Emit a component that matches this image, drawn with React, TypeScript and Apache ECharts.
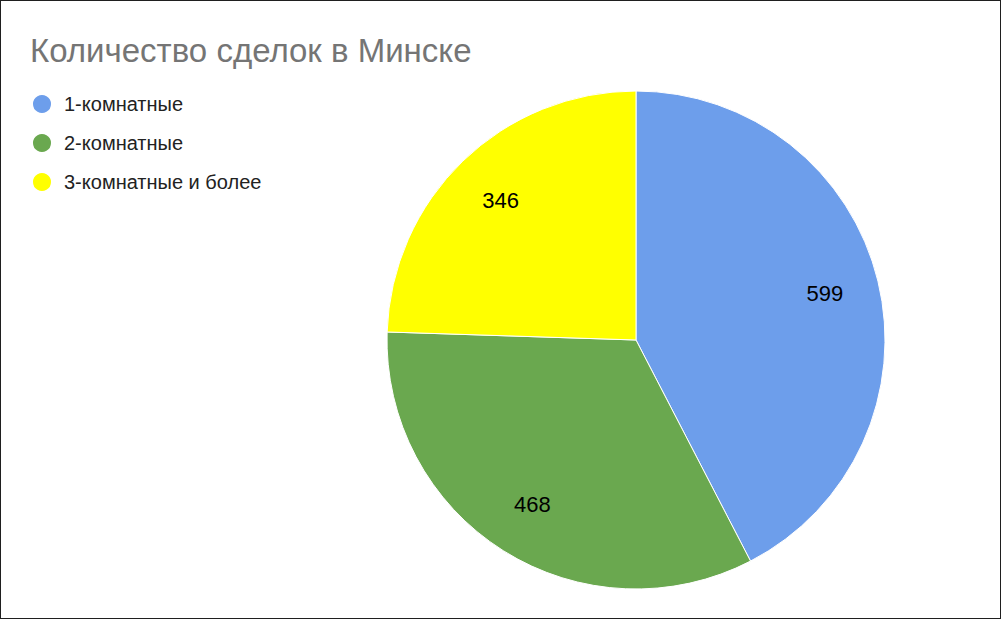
import React, { useEffect, useRef } from "react";
import * as echarts from "echarts";

const categories = ["1-комнатные", "2-комнатные", "3-комнатные и более"];
const values = [599, 468, 346];
const colors = ["#6d9eeb", "#6aa84f", "#ffff00"];
const titleText = "Количество сделок в Минске";

export default function App() {
  const ref = useRef<HTMLDivElement>(null);
  useEffect(() => {
    if (!ref.current) return;
    const chart = echarts.init(ref.current, undefined, { renderer: "svg" });
    const data = categories.map((name, i) => ({
      name,
      value: values[i],
      itemStyle: { color: colors[i] },
    }));
    chart.setOption({
      animation: false,
      backgroundColor: "#ffffff",
      textStyle: { fontFamily: "Liberation Sans, Arial, sans-serif" },
      title: {
        text: titleText,
        left: 30,
        top: 34,
        padding: 0,
        textStyle: {
          fontSize: 33,
          lineHeight: 33,
          fontWeight: "normal",
          color: "#757575",
          fontFamily: "Liberation Sans, Arial, sans-serif",
        },
      },
      legend: {
        orient: "vertical",
        left: 31,
        top: 93,
        padding: 0,
        itemWidth: 20,
        itemHeight: 20,
        itemGap: 17,
        icon: "circle",
        data: categories.map((name, i) => ({ name, itemStyle: { color: colors[i] } })),
        textStyle: {
          fontSize: 20,
          color: "#222222",
          padding: [0, 0, 0, 7],
          fontFamily: "Liberation Sans, Arial, sans-serif",
        },
      },
      series: [
        {
          type: "pie",
          center: [636, 340],
          radius: [0, 249],
          startAngle: 90,
          clockwise: true,
          data,
          label: { show: false },
          labelLine: { show: false },
          itemStyle: { borderColor: "#ffffff", borderWidth: 1 },
          emphasis: { disabled: true },
        },
        {
          type: "pie",
          center: [636, 340],
          radius: [134, 249],
          startAngle: 90,
          clockwise: true,
          silent: true,
          data: categories.map((name, i) => ({ name, value: values[i] })),
          itemStyle: { color: "rgba(0,0,0,0)" },
          label: {
            show: true,
            position: "inside",
            formatter: "{c}",
            fontSize: 22,
            color: "#000000",
            fontFamily: "Liberation Sans, Arial, sans-serif",
          },
          labelLine: { show: false },
          emphasis: { disabled: true },
        },
      ],
    });
    return () => chart.dispose();
  }, []);
  return (
    <div style={{ position: "fixed", left: 0, top: 0, width: 1001, height: 619, background: "#fff" }}>
      <div ref={ref} style={{ position: "absolute", left: 0, top: 0, width: 1001, height: 619 }} />
      <div
        style={{
          position: "absolute",
          left: 0,
          top: 0,
          width: 1001,
          height: 619,
          boxSizing: "border-box",
          border: "1px solid #1f1f1f",
          pointerEvents: "none",
        }}
      />
    </div>
  );
}
